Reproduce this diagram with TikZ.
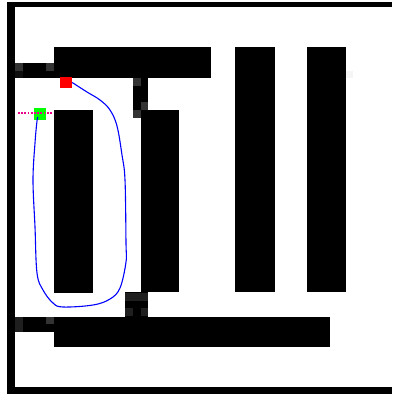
\documentclass[tikz,border=0pt]{standalone}
\begin{document}
\begin{tikzpicture}[x=1pt,y=-1pt,
  wall/.style={fill=black},
  cellA/.style={fill=black!80},
  cellB/.style={fill=black!88},
  cellC/.style={fill=black!94},
  marker/.style={draw=none,minimum width=12pt,minimum height=11pt,inner sep=0pt},
  trail/.style={draw=blue,line width=1.1pt,line join=round},
  ray/.style={draw=magenta,line width=2pt,dash pattern=on 1.8pt off 1.4pt}]
\useasboundingbox (0,0) rectangle (392,397);
\fill[white] (0,0) rectangle (392,397);
% outer frame
\fill[black] (7,2) rectangle (392,394);
\fill[white] (15,7) rectangle (392,387);
% obstacles
\fill[wall] (54,47) rectangle (211,78);
\fill[wall] (15,63) rectangle (54,78);
\fill[wall] (133,78) rectangle (148,118);
\fill[wall] (141,110) rectangle (179,292);
\fill[wall] (54,110) rectangle (93,293);
\fill[wall] (235,47) rectangle (275,292);
\fill[wall] (307,47) rectangle (346,292);
\fill[wall] (125,292) rectangle (148,317);
\fill[wall] (54,317) rectangle (330,347);
\fill[wall] (15,317) rectangle (54,332);
% uncertain cells
\fill[cellA] (15,63) rectangle (23,71);
\fill[cellC] (15,71) rectangle (23,78);
\fill[cellA] (46,63) rectangle (54,71);
\fill[cellA] (133,78) rectangle (141,86);
\fill[cellA] (141,102) rectangle (148,110);
\fill[cellA] (133,110) rectangle (141,118);
\fill[cellB] (15,317) rectangle (23,332);
\fill[cellA] (46,317) rectangle (54,324);
\fill[cellB] (125,293) rectangle (148,301);
\fill[cellB] (125,308) rectangle (133,316);
\fill[cellB] (141,308) rectangle (148,316);
\fill[black!4] (346,71) rectangle (353,78);
% markers
\node[marker,fill=red] (start) at (66,82.5) {};
\node[marker,fill=green,minimum height=12pt] (goal) at (40,114) {};
% path
\draw[trail] plot[smooth,tension=0.6] coordinates {(start.east) (87,92) (100,100) (110,110) (117,126) (122,155) (125,180) (126,243) (126,262) (120,288) (110,299) (93,305) (63,307) (53,303) (43,290) (37,273) (35,227) (33,180) (35,143) (37,121) (38,117)};
\coordinate (rayend) at (18,113);
\draw[ray] (rayend) -- (52,113);
\end{tikzpicture}
\end{document}
